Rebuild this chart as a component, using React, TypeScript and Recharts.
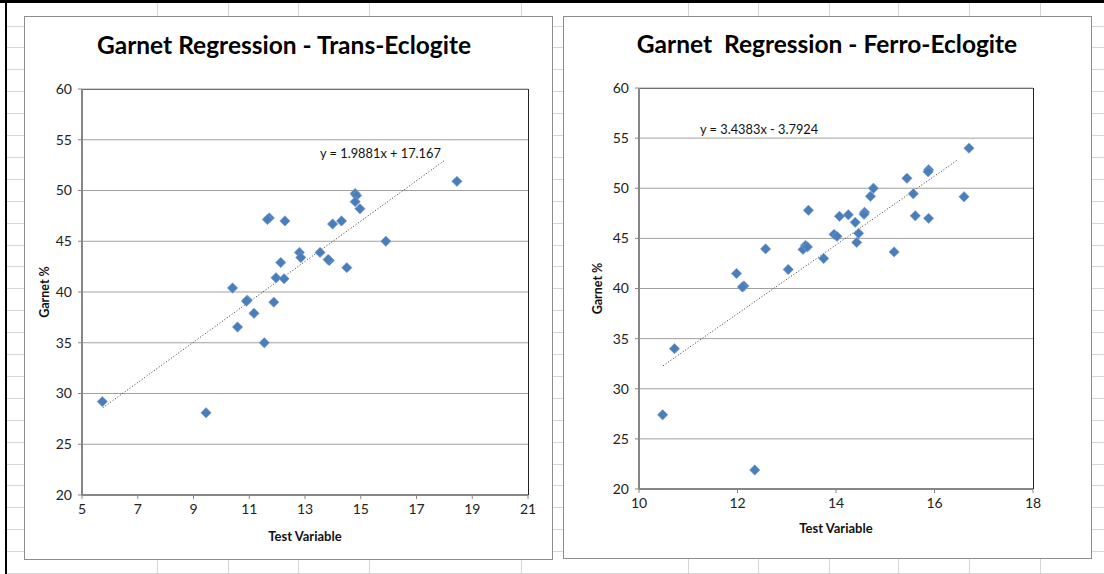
import {
  ScatterChart,
  Scatter,
  XAxis,
  YAxis,
  CartesianGrid,
  ReferenceLine,
  Label,
} from "recharts";

// Trans-Eclogite samples
const transX = [
  18.45, 14.8, 14.85, 14.8, 14.97, 11.72, 11.65, 12.28, 13.99, 14.31, 15.9,
  12.8, 12.85, 13.54, 13.87, 13.83, 14.5, 12.13, 11.96, 12.25, 10.4, 10.93,
  10.9, 11.88, 11.17, 10.58, 11.54, 5.73, 9.45,
];
const transY = [
  50.9, 49.7, 49.5, 48.9, 48.2, 47.3, 47.15, 47.0, 46.7, 47.0, 45.0, 43.9,
  43.4, 43.9, 43.1, 43.2, 42.4, 42.9, 41.4, 41.3, 40.4, 39.2, 39.1, 39.0,
  37.9, 36.55, 35.0, 29.2, 28.1,
];

// Ferro-Eclogite samples
const ferroX = [
  16.7, 15.44, 15.88, 15.87, 14.76, 14.7, 15.57, 16.6, 15.61, 15.88, 14.58,
  14.57, 14.25, 14.07, 14.39, 13.44, 14.46, 14.42, 13.96, 14.02, 15.18, 13.75,
  13.38, 13.33, 13.42, 12.57, 13.03, 11.98, 12.13, 12.1, 10.72, 10.48, 12.35,
];
const ferroY = [
  54.0, 51.0, 51.85, 51.65, 50.0, 49.2, 49.45, 49.15, 47.25, 47.0, 47.6, 47.4,
  47.35, 47.2, 46.6, 47.8, 45.5, 44.6, 45.4, 45.2, 43.65, 43.0, 44.3, 43.9,
  44.15, 43.95, 41.9, 41.5, 40.25, 40.15, 34.0, 27.4, 21.9,
];

// trendline end points as drawn
const transTrendX = [5.75, 18.0];
const transTrendY = [28.6, 52.95];
const ferroTrendX = [10.49, 16.45];
const ferroTrendY = [32.3, 52.76];

const transXTicks = [5, 7, 9, 11, 13, 15, 17, 19, 21];
const ferroXTicks = [10, 12, 14, 16, 18];
const yTicks = [20, 25, 30, 35, 40, 45, 50, 55, 60];

const BLUE = "#4a7ebb";
const AXIS = "#868686";
const FONT = "Lato, 'Open Sans', sans-serif";

const transData = transX.map((x, i) => ({ x, y: transY[i] }));
const ferroData = ferroX.map((x, i) => ({ x, y: ferroY[i] }));

function Diamond(props: any) {
  const { cx, cy } = props;
  if (cx == null || cy == null) return <g />;
  return (
    <polygon
      points={`${cx},${cy - 5.2} ${cx + 5.2},${cy} ${cx},${cy + 5.2} ${cx - 5.2},${cy}`}
      fill={BLUE}
      stroke="#7ea3d4"
      strokeWidth={0.6}
    />
  );
}

function Panel(props: {
  left: number;
  width: number;
  data: { x: number; y: number }[];
  xTicks: number[];
  trendX: number[];
  trendY: number[];
  margin: { top: number; right: number; bottom: number; left: number };
  yAxisWidth: number;
  xLabelOffset: number;
}) {
  const { left, width, data, xTicks, trendX, trendY, margin } = props;
  return (
    <div style={{ position: "absolute", left, top: 0, width, height: 574 }}>
      <ScatterChart width={width} height={574} margin={margin}>
        <CartesianGrid
          horizontal
          vertical={false}
          stroke="#a0a0a0"
        />
        <XAxis
          type="number"
          dataKey="x"
          domain={[xTicks[0], xTicks[xTicks.length - 1]]}
          ticks={xTicks}
          interval={0}
          height={30}
          axisLine={{ stroke: AXIS, strokeWidth: 2 }}
          tickLine={{ stroke: AXIS }}
          tickSize={4}
          tickMargin={5}
          tick={{ fill: "#222", fontSize: 14, fontFamily: FONT }}
        >
          <Label
            value="Test Variable"
            position="bottom"
            offset={props.xLabelOffset}
            style={{ fontWeight: 700, fontSize: 13, fill: "#111", fontFamily: FONT }}
          />
        </XAxis>
        <YAxis
          type="number"
          dataKey="y"
          domain={[20, 60]}
          ticks={yTicks}
          interval={0}
          width={props.yAxisWidth}
          axisLine={{ stroke: AXIS, strokeWidth: 2 }}
          tickLine={{ stroke: AXIS }}
          tickSize={4}
          tickMargin={6}
          tick={{ fill: "#222", fontSize: 14, fontFamily: FONT }}
        >
          <Label
            value="Garnet %"
            angle={-90}
            position="center"
            style={{ fontWeight: 700, fontSize: 12.5, fill: "#111", fontFamily: FONT }}
          />
        </YAxis>
        <Scatter data={data} shape={Diamond} isAnimationActive={false} />
        <ReferenceLine
          segment={[
            { x: trendX[0], y: trendY[0] },
            { x: trendX[1], y: trendY[1] },
          ]}
          stroke="#333"
          strokeWidth={1}
          strokeDasharray="1 2"
        />
      </ScatterChart>
    </div>
  );
}

const rowLines = Array.from({ length: 26 }, (_, i) => 25.5 + i * 21.9);
const colLines = [157, 228, 298, 369, 521, 688, 758, 829, 898, 969, 1040];

export default function App() {
  return (
    <div
      style={{
        position: "absolute",
        left: 0,
        top: 0,
        width: 1104,
        height: 574,
        overflow: "hidden",
        background: "#fff",
        fontFamily: FONT,
      }}
    >
      {/* spreadsheet grid behind the charts */}
      {rowLines.map((y) => (
        <div
          key={"r" + y}
          style={{ position: "absolute", left: 7, top: Math.round(y), width: 1097, height: 1, background: "#d6d6d6" }}
        />
      ))}
      {colLines.map((x) => (
        <div
          key={"c" + x}
          style={{ position: "absolute", left: x, top: 0, width: 1, height: 574, background: "#d6d6d6" }}
        />
      ))}
      <div style={{ position: "absolute", left: 0, top: 0, width: 1104, height: 3, background: "#000" }} />
      <div style={{ position: "absolute", left: 5, top: 0, width: 2, height: 574, background: "#000" }} />

      {/* chart boxes */}
      <div
        style={{
          position: "absolute",
          left: 24,
          top: 16,
          width: 529,
          height: 544,
          boxSizing: "border-box",
          border: "1px solid #8c8c8c",
          background: "#fff",
        }}
      />
      <div
        style={{
          position: "absolute",
          left: 563,
          top: 16,
          width: 529,
          height: 543,
          boxSizing: "border-box",
          border: "1px solid #8c8c8c",
          background: "#fff",
        }}
      />

      {/* plot area top / right borders */}
      <div
        style={{
          position: "absolute",
          left: 82,
          top: 89,
          width: 447,
          height: 406,
          boxSizing: "border-box",
          borderTop: "1px solid #404040",
          borderRight: "1px solid #222",
        }}
      />
      <div
        style={{
          position: "absolute",
          left: 639,
          top: 88,
          width: 395,
          height: 401,
          boxSizing: "border-box",
          borderTop: "1px solid #404040",
          borderRight: "1px solid #222",
        }}
      />

      <div
        style={{
          position: "absolute",
          left: 34,
          top: 30,
          width: 500,
          textAlign: "center",
          fontSize: 24.5,
          fontWeight: 700,
          lineHeight: "30px",
          color: "#000",
        }}
      >
        Garnet Regression - Trans-Eclogite
      </div>
      <div
        style={{
          position: "absolute",
          left: 577,
          top: 29,
          width: 500,
          textAlign: "center",
          fontSize: 24.5,
          fontWeight: 700,
          lineHeight: "30px",
          color: "#000",
          whiteSpace: "pre",
        }}
      >
        {"Garnet  Regression - Ferro-Eclogite"}
      </div>

      <Panel
        left={0}
        width={553}
        data={transData}
        xTicks={transXTicks}
        trendX={transTrendX}
        trendY={transTrendY}
        margin={{ top: 89, right: 25, bottom: 49, left: 8 }}
        yAxisWidth={74}
        xLabelOffset={7}
      />
      <Panel
        left={553}
        width={551}
        data={ferroData}
        xTicks={ferroXTicks}
        trendX={ferroTrendX}
        trendY={ferroTrendY}
        margin={{ top: 88, right: 71, bottom: 55, left: 4 }}
        yAxisWidth={82}
        xLabelOffset={5}
      />

      <div style={{ position: "absolute", left: 320, top: 145, fontSize: 12.8, color: "#111", whiteSpace: "pre" }}>
        {"y = 1.9881x + 17.167"}
      </div>
      <div style={{ position: "absolute", left: 700, top: 121, fontSize: 12.8, color: "#111", whiteSpace: "pre" }}>
        {"y = 3.4383x - 3.7924"}
      </div>
    </div>
  );
}
